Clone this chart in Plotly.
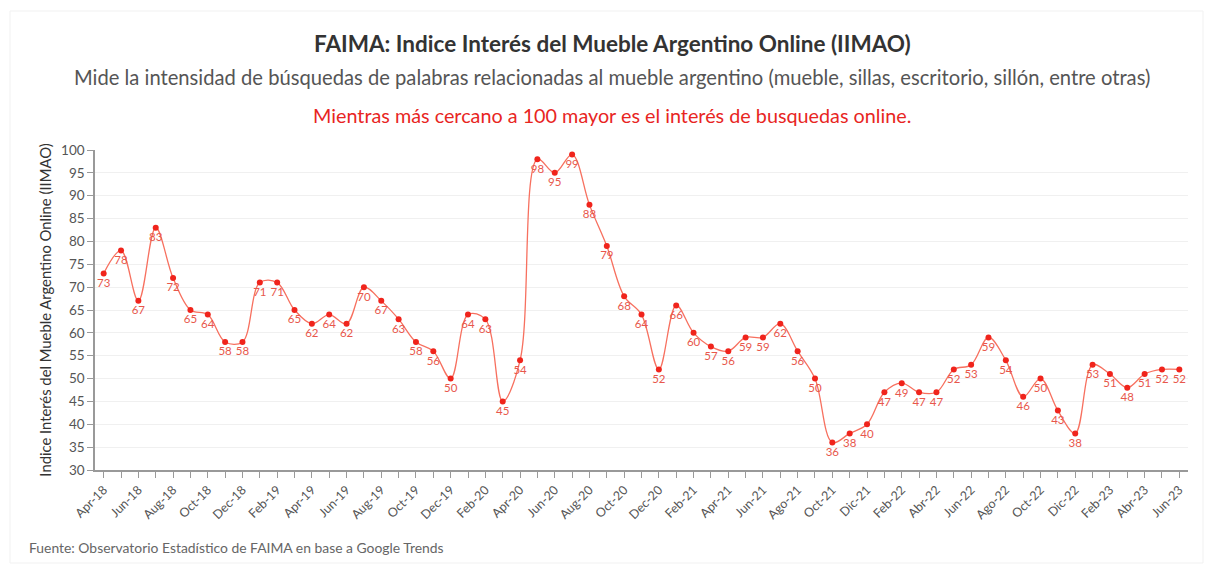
import plotly.graph_objects as go

months = [
    "Apr-18", "May-18", "Jun-18", "Jul-18", "Aug-18", "Sep-18", "Oct-18", "Nov-18", "Dec-18",
    "Jan-19", "Feb-19", "Mar-19", "Apr-19", "May-19", "Jun-19", "Jul-19", "Aug-19", "Sep-19",
    "Oct-19", "Nov-19", "Dec-19",
    "Jan-20", "Feb-20", "Mar-20", "Apr-20", "May-20", "Jun-20", "Jul-20", "Aug-20", "Sep-20",
    "Oct-20", "Nov-20", "Dec-20",
    "Jan-21", "Feb-21", "Mar-21", "Apr-21", "May-21", "Jun-21", "Jul-21", "Ago-21", "Sep-21",
    "Oct-21", "Nov-21", "Dic-21",
    "Ene-22", "Feb-22", "Mar-22", "Abr-22", "May-22", "Jun-22", "Jul-22", "Ago-22", "Sep-22",
    "Oct-22", "Nov-22", "Dic-22",
    "Ene-23", "Feb-23", "Mar-23", "Abr-23", "May-23", "Jun-23",
]

iimao = [
    73, 78, 67, 83, 72, 65, 64, 58, 58,
    71, 71, 65, 62, 64, 62, 70, 67, 63, 58, 56, 50,
    64, 63, 45, 54, 98, 95, 99, 88, 79, 68, 64, 52,
    66, 60, 57, 56, 59, 59, 62, 56, 50, 36, 38, 40,
    47, 49, 47, 47, 52, 53, 59, 54, 46, 50, 43, 38,
    53, 51, 48, 51, 52, 52,
]

y_ticks = list(range(30, 101, 5))
tick_labels = [m if i % 2 == 0 else "" for i, m in enumerate(months)]

FONT = "Lato"

fig = go.Figure()
fig.add_trace(go.Scatter(
    x=months, y=iimao,
    mode="lines+markers+text",
    line=dict(color="#f7705f", width=1.3, shape="spline", smoothing=1.0),
    marker=dict(color="#f0241c", size=6),
    text=[str(v) for v in iimao],
    textposition="bottom center",
    textfont=dict(family=FONT, size=11.5, color="#e8574c"),
    cliponaxis=False,
    hoverinfo="x+y",
))

# page body has an 8px margin, so the figure is offset by 8px
OFF = 8
W, H = 1213 - OFF, 565 - OFF
L, R, T, B = 95 - OFF, 25, 150 - OFF, 95
pw, ph = W - L - R, H - T - B

def px(x):
    return (x - OFF - L) / pw

def py(y):
    return (H - B - (y - OFF)) / ph

fig.update_layout(
    width=W, height=H,
    margin=dict(l=L, r=R, t=T, b=B),
    paper_bgcolor="white", plot_bgcolor="white",
    showlegend=False,
    font=dict(family=FONT, color="#444"),
    xaxis=dict(
        type="category",
        range=[-0.5, len(months) - 0.5],
        tickmode="array", tickvals=months, ticktext=tick_labels,
        tickangle=-45,
        tickfont=dict(family=FONT, size=12.5, color="#555"),
        ticks="outside", ticklen=6, tickcolor="#999", tickwidth=1,
        showline=True, linecolor="#999", linewidth=1.5,
        showgrid=False, zeroline=False,
    ),
    yaxis=dict(
        range=[30, 100],
        tickvals=y_ticks,
        tickfont=dict(family=FONT, size=13.5, color="#555"),
        ticks="outside", ticklen=6, tickcolor="#999", tickwidth=1,
        showline=True, linecolor="#999", linewidth=1.5,
        showgrid=True, gridcolor="#f0f0f0", gridwidth=1,
        zeroline=False,
        title=dict(text="Indice Interés del Mueble Argentino Online (IIMAO)",
                   font=dict(family=FONT, size=14.8, color="#333"), standoff=6),
    ),
    shapes=[dict(
        type="rect", xref="paper", yref="paper",
        x0=px(10), x1=px(1203), y0=py(563), y1=py(11),
        line=dict(color="#f1f1f1", width=1), fillcolor="rgba(0,0,0,0)", layer="below",
    )],
    annotations=[
        dict(text="<b>FAIMA: Indice Interés del Mueble Argentino Online (IIMAO)</b>",
             xref="paper", yref="paper", x=px(612), y=py(44), showarrow=False,
             xanchor="center", yanchor="middle",
             font=dict(family=FONT, size=22.5, color="#333")),
        dict(text="Mide la intensidad de búsquedas de palabras relacionadas al mueble argentino (mueble, sillas, escritorio, sillón, entre otras)",
             xref="paper", yref="paper", x=px(612), y=py(77), showarrow=False,
             xanchor="center", yanchor="middle",
             font=dict(family=FONT, size=20.2, color="#555")),
        dict(text="Mientras más cercano a 100 mayor es el interés de busquedas online.",
             xref="paper", yref="paper", x=px(612), y=py(115), showarrow=False,
             xanchor="center", yanchor="middle",
             font=dict(family=FONT, size=19.8, color="#e8261f")),
        dict(text="Fuente: Observatorio Estadístico de FAIMA en base a Google Trends",
             xref="paper", yref="paper", x=px(27), y=py(547), showarrow=False,
             xanchor="left", yanchor="middle",
             font=dict(family=FONT, size=13.9, color="#666")),
    ],
)

fig.write_html("out.html")
